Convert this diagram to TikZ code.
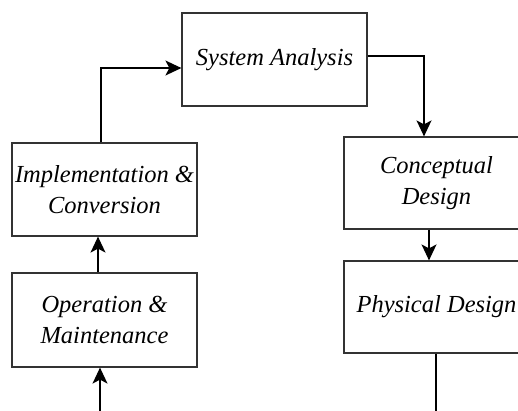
\documentclass[tikz,border=0pt]{standalone}
\usepackage{fontspec}
\setmainfont{Liberation Serif}
\usetikzlibrary{arrows.meta}
\begin{document}
\begin{tikzpicture}[x=1pt,y=-1pt,
  box/.style={draw=black!80,line width=1.2pt,rectangle,inner sep=0pt,
    font=\fontsize{24.5}{31}\itshape\selectfont,align=center},
  conn/.style={line width=1.3pt,-{Stealth[length=16pt,width=15pt,inset=4pt]}},
  plain/.style={line width=1.3pt}]
\useasboundingbox (0,0) rectangle (518,410);
\begin{scope}
\clip (0,0) rectangle (518,410);
\node[box,minimum width=185pt,minimum height=93pt] (sa) at (274.5,59.5) {System Analysis};
\node[box,minimum width=185pt,minimum height=93pt] (impl) at (104.5,189.5) {Implementation \&\\Conversion};
\node[box,minimum width=185pt,minimum height=94pt] (op) at (104.5,320) {Operation \&\\Maintenance};
\node[box,minimum width=185pt,minimum height=92pt] (cd) at (436.5,183) {Conceptual\\Design};
\node[box,minimum width=185pt,minimum height=92pt] (pd) at (436.5,307) {Physical Design};
\coordinate (c1) at (101,68);
\coordinate (c2) at (424,56);
\coordinate (b1) at (100,412);
\coordinate (b2) at (436,412);
\draw[conn] (impl.north -| c1) -- (c1) -- (sa.west |- c1);
\draw[conn] (sa.east |- c2) -- (c2) -- (cd.north -| c2);
\draw[conn] (op.north -| 98,0) -- (impl.south -| 98,0);
\draw[conn] (b1) -- (op.south -| b1);
\draw[conn] (cd.south -| 429,0) -- (pd.north -| 429,0);
\draw[plain] (pd.south -| b2) -- (b2);
\end{scope}
\end{tikzpicture}
\end{document}
